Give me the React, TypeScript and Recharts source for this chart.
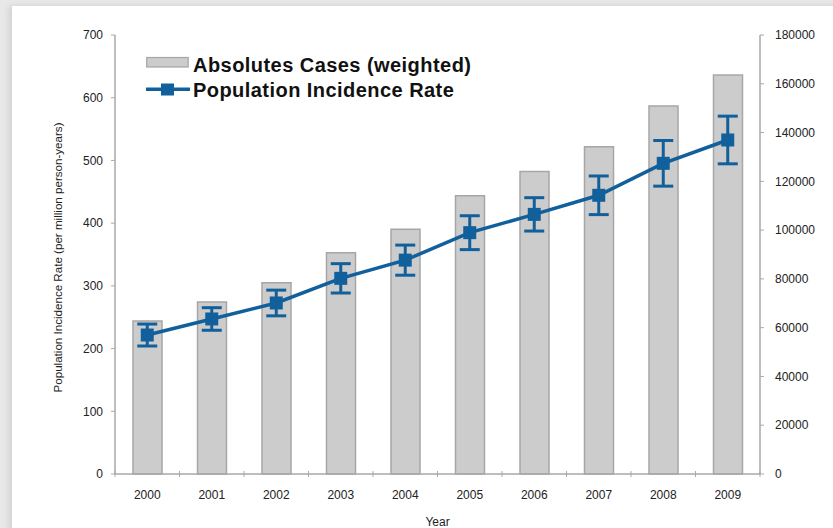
import React from 'react';
import {
  ComposedChart,
  Bar,
  Line,
  XAxis,
  YAxis,
  ErrorBar,
  Legend,
} from 'recharts';

const years = ['2000', '2001', '2002', '2003', '2004', '2005', '2006', '2007', '2008', '2009'];
const cases = [62700, 70500, 78400, 90700, 100400, 114100, 124000, 134200, 150900, 163600];
const rate = [221.6, 247.2, 272.7, 312, 341, 384.8, 414, 444.4, 495.4, 532.6];
const rateErr = [17.5, 18, 20.5, 23.4, 24, 27, 26.6, 30.8, 36.4, 38];
const leftTicks = [0, 100, 200, 300, 400, 500, 600, 700];
const rightTicks = [0, 20000, 40000, 60000, 80000, 100000, 120000, 140000, 160000, 180000];

const data = years.map((year, i) => ({
  year,
  cases: cases[i],
  rate: rate[i],
  err: rateErr[i],
}));

const BLUE = '#12609b';
const AXIS = '#a9a9a9';
const FONT = '"Liberation Sans", Arial, Helvetica, sans-serif';

const XTick = (props: any) => {
  const { x, y, payload, index } = props;
  const off = payload && payload.offset ? payload.offset : 32.25;
  const axisY = y - 16;
  return (
    <g>
      <line x1={x - off} x2={x - off} y1={axisY - 3} y2={axisY + 3} stroke={AXIS} strokeWidth={1} />
      {index === years.length - 1 ? (
        <line x1={x + off} x2={x + off} y1={axisY - 3} y2={axisY + 3} stroke={AXIS} strokeWidth={1} />
      ) : null}
      <text x={x} y={y} dy="0.71em" textAnchor="middle" fontSize={12} fill="#222" fontFamily={FONT}>
        {payload.value}
      </text>
    </g>
  );
};

const SquareDot = (props: any) => {
  const { cx, cy, index } = props;
  if (cx == null || cy == null) return <g key={`d${index}`} />;
  return <rect key={`d${index}`} x={cx - 6.5} y={cy - 6.5} width={13} height={13} fill={BLUE} />;
};

const renderLegend = () => (
  <div
    style={{
      fontFamily: FONT,
      fontWeight: 'bold',
      fontSize: 20,
      letterSpacing: '0.45px',
      color: '#111',
      lineHeight: '25.6px',
    }}
  >
    <div style={{ position: 'relative', height: 25.6, whiteSpace: 'nowrap' }}>
      <svg width={46} height={26} style={{ position: 'absolute', left: 0, top: 0 }}>
        <rect x={0.7} y={4.5} width={41.5} height={9.5} fill="#cccccc" stroke="#a6a6a6" strokeWidth={1.2} />
      </svg>
      <span style={{ position: 'absolute', left: 47, top: 0 }}>Absolutes Cases (weighted)</span>
    </div>
    <div style={{ position: 'relative', height: 25.6, whiteSpace: 'nowrap' }}>
      <svg width={46} height={26} style={{ position: 'absolute', left: 0, top: 0 }}>
        <line x1={-1} x2={44} y1={11.2} y2={11.2} stroke={BLUE} strokeWidth={3.5} />
        <rect x={15} y={5.5} width={13} height={12} fill={BLUE} />
      </svg>
      <span style={{ position: 'absolute', left: 47, top: 0 }}>Population Incidence Rate</span>
    </div>
  </div>
);

export default function App() {
  return (
    <div style={{ position: 'absolute', left: 0, top: 0, width: 833, height: 528, background: '#e8e8e8', overflow: 'hidden' }}>
      <div
        style={{
          position: 'absolute',
          left: 12,
          top: 6,
          width: 830,
          height: 530,
          background: '#ffffff',
          boxShadow: '-3px 0 6px rgba(0,0,0,0.10)',
        }}
      />
      <div style={{ position: 'absolute', left: 0, top: 0 }}>
        <ComposedChart
          width={833}
          height={528}
          data={data}
          margin={{ top: 35, right: 0, bottom: 0, left: 0 }}
          barCategoryGap={0}
        >
          <XAxis
            dataKey="year"
            xAxisId="x"
            interval={0}
            height={54}
            tickLine={false}
            tickSize={0}
            tickMargin={16}
            axisLine={{ stroke: AXIS, strokeWidth: 1.5 }}
            tick={<XTick />}
            label={{ value: 'Year', position: 'insideBottom', offset: 2, fontSize: 12, fill: '#222', fontFamily: FONT }}
          />
          <YAxis
            yAxisId="left"
            orientation="left"
            width={115}
            domain={[0, 700]}
            ticks={leftTicks}
            interval={0}
            tickSize={4}
            tickMargin={8}
            axisLine={{ stroke: AXIS, strokeWidth: 1.5 }}
            tickLine={{ stroke: AXIS }}
            tick={{ fontSize: 12, fill: '#222', fontFamily: FONT }}
            label={{
              value: 'Population Incidence Rate (per million person-years)',
              angle: -90,
              position: 'center',
              dy: 3,
              fontSize: 11.6,
              fill: '#222',
              fontFamily: FONT,
            }}
          />
          <YAxis
            yAxisId="right"
            orientation="right"
            width={73}
            domain={[0, 180000]}
            ticks={rightTicks}
            interval={0}
            tickSize={4}
            tickMargin={11}
            axisLine={{ stroke: AXIS, strokeWidth: 1.5 }}
            tickLine={{ stroke: AXIS }}
            tick={{ fontSize: 12, fill: '#222', fontFamily: FONT, textAnchor: 'start' }}
          />
          <Legend
            layout="vertical"
            align="center"
            verticalAlign="middle"
            content={renderLegend}
            wrapperStyle={{ position: 'absolute', left: 146, top: 52.5, width: 380, height: 52 }}
          />
          <Bar
            xAxisId="x"
            yAxisId="right"
            dataKey="cases"
            barSize={29}
            fill="#cccccc"
            stroke="#a6a6a6"
            strokeWidth={1.5}
            isAnimationActive={false}
          />
          <Line
            xAxisId="x"
            yAxisId="left"
            type="linear"
            dataKey="rate"
            stroke={BLUE}
            strokeWidth={3.5}
            dot={SquareDot}
            activeDot={false}
            isAnimationActive={false}
          >
            <ErrorBar dataKey="err" width={10} strokeWidth={3} stroke={BLUE} direction="y" isAnimationActive={false} />
          </Line>
        </ComposedChart>
      </div>
    </div>
  );
}
